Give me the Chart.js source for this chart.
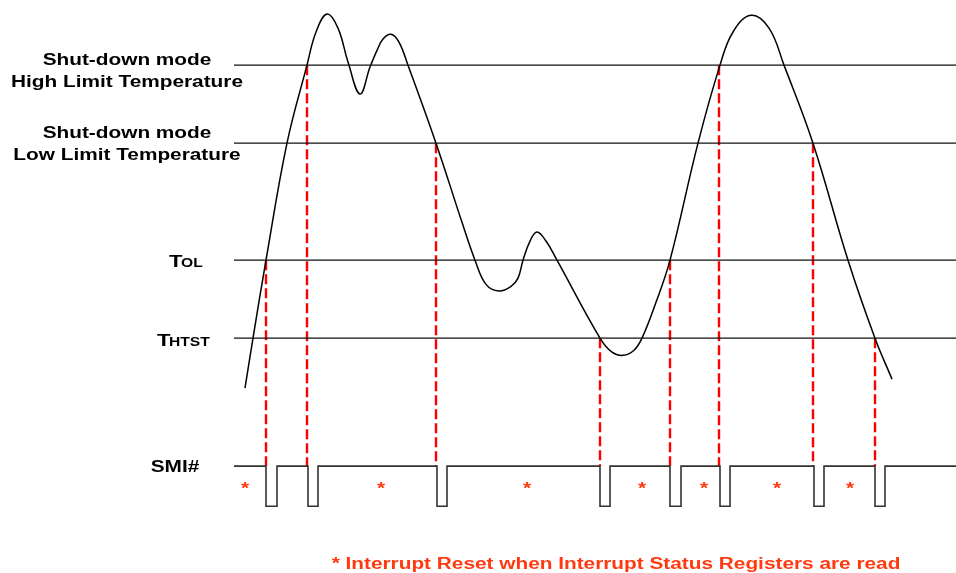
<!DOCTYPE html>
<html lang="en">
<head>
<meta charset="UTF-8">
<title>SMI# timing</title>
<script src="https://cdn.jsdelivr.net/npm/chart.js"></script>
<style>
  html, body { margin: 0; padding: 0; background: #fff; }
  #wrap { width: 956px; height: 573px; position: relative; }
</style>
</head>
<body>
<div id="wrap"><canvas id="smiChart"></canvas></div>
<script>
// time runs left to right (1 unit = 10 px), temperature in arbitrary degrees
const curveTime = [24.5, 25.3, 26.6, 28.7, 30.7, 31.6, 32.7, 33.8, 34.8, 36.0, 37.0, 37.7, 38.3, 39.1, 39.9, 40.8, 43.6, 46.2, 47.5, 48.6,
                   49.9, 51.1, 51.8, 52.3, 53.0, 53.7, 54.6, 55.7, 60.0, 61.2, 62.3, 63.4, 64.2, 65.6, 67.0, 69.8, 72.0, 73.3, 75.1, 76.9,
                   78.4, 81.3, 84.8, 87.5, 89.2];
const curveTemp = [17.2, 30, 50, 80, 100, 108.5, 113.1, 109.5, 100.8, 92.6, 99.5, 103.8, 106.7, 107.9, 105.9, 100, 80, 59.7, 50, 43.8,
                   42.1, 43.3, 45.4, 50, 54.9, 57.2, 54.9, 50, 30, 26.4, 25.6, 26.9, 30, 39.2, 50, 80, 100, 108.5, 112.8, 109.5,
                   100, 80, 50, 30, 19.5];

// threshold levels
const levelTemps = [100, 80, 50, 30];
const levelStart = 23.4;
const levelEnd = 95.6;

// crossings that fire SMI#
const markerTimes = [26.6, 30.7, 43.6, 60.0, 67.0, 71.9, 81.3, 87.5];
const markerLevels = [50, 100, 80, 30, 50, 100, 80, 30];

// SMI# trace
const smiHigh = -2.8;
const smiLow = -13.1;
const smiFall = [26.6, 30.8, 43.7, 60.0, 67.0, 72.0, 81.4, 87.5];
const smiRise = [27.7, 31.8, 44.7, 61.0, 68.1, 73.0, 82.4, 88.5];

// interrupt reset marks
const starTimes = [24.5, 38.1, 52.7, 64.2, 70.4, 77.7, 85.0];
const starLevel = -7.7;

const footnote = '* Interrupt Reset when Interrupt Status Registers are read';

const smiPoints = [{x: levelStart, y: smiHigh}];
smiFall.forEach((t, i) => {
    smiPoints.push({x: t, y: smiHigh}, {x: t, y: smiLow}, {x: smiRise[i], y: smiLow}, {x: smiRise[i], y: smiHigh});
});
smiPoints.push({x: levelEnd, y: smiHigh});

const datasets = [];
levelTemps.forEach(v => {
    datasets.push({
        data: [{x: levelStart, y: v}, {x: levelEnd, y: v}],
        borderColor: '#111', borderWidth: 1.3
    });
});
datasets.push({
    data: curveTime.map((t, i) => ({x: t, y: curveTemp[i]})),
    borderColor: '#000', borderWidth: 1.5,
    tension: 0.4
});
datasets.push({
    data: smiPoints,
    borderColor: '#333', borderWidth: 1.6
});
markerTimes.forEach((t, i) => {
    datasets.push({
        data: [{x: t, y: markerLevels[i]}, {x: t, y: smiHigh}],
        borderColor: '#ff0000', borderWidth: 2.4, borderDash: [10, 4]
    });
});

const STRETCH = 1.3;
function stretchedText(ctx, text, x, y, font, align) {
    ctx.save();
    ctx.font = font;
    ctx.textAlign = align;
    ctx.translate(x, y);
    ctx.scale(STRETCH, 1);
    ctx.fillText(text, 0, 0);
    ctx.restore();
}

const labelsPlugin = {
    id: 'labels',
    afterDatasetsDraw(chart) {
        const ctx = chart.ctx;
        const xs = chart.scales.x, ys = chart.scales.y;
        const bold = '"Liberation Sans", Arial, sans-serif';
        ctx.save();
        ctx.textBaseline = 'middle';
        ctx.fillStyle = '#000';
        const yHigh = ys.getPixelForValue(levelTemps[0]);
        const yLow = ys.getPixelForValue(levelTemps[1]);
        stretchedText(ctx, 'Shut-down mode', 127, yHigh - 5, 'bold 16px ' + bold, 'center');
        stretchedText(ctx, 'High Limit Temperature', 127, yHigh + 17, 'bold 16px ' + bold, 'center');
        stretchedText(ctx, 'Shut-down mode', 127, yLow - 10, 'bold 16px ' + bold, 'center');
        stretchedText(ctx, 'Low Limit Temperature', 127, yLow + 12, 'bold 16px ' + bold, 'center');

        ctx.textBaseline = 'alphabetic';
        // T with small-caps subscript
        const yTol = ys.getPixelForValue(levelTemps[2]) + 7;
        stretchedText(ctx, 'T', 169, yTol, 'bold 17px ' + bold, 'left');
        stretchedText(ctx, 'OL', 181, yTol, 'bold 12px ' + bold, 'left');
        const yHt = ys.getPixelForValue(levelTemps[3]) + 8;
        stretchedText(ctx, 'T', 157, yHt, 'bold 17px ' + bold, 'left');
        stretchedText(ctx, 'HTST', 169, yHt, 'bold 12px ' + bold, 'left');

        ctx.textBaseline = 'middle';
        stretchedText(ctx, 'SMI#', 175, ys.getPixelForValue(smiHigh) + 1, 'bold 16px ' + bold, 'center');

        ctx.fillStyle = '#ff3a10';
        ctx.textBaseline = 'alphabetic';
        starTimes.forEach(t => {
            stretchedText(ctx, '*', xs.getPixelForValue(t), ys.getPixelForValue(starLevel) + 9, 'bold 16px ' + bold, 'center');
        });
        stretchedText(ctx, footnote, 616, 569, 'bold 16px ' + bold, 'center');
        ctx.restore();
    }
};

new Chart(document.getElementById('smiChart'), {
    type: 'scatter',
    data: { datasets: datasets.map(d => Object.assign({showLine: true, pointRadius: 0, fill: false}, d)) },
    options: {
        responsive: true,
        maintainAspectRatio: false,
        animation: false,
        layout: { padding: 0 },
        plugins: { legend: { display: false }, tooltip: { enabled: false } },
        scales: {
            x: { type: 'linear', display: false, min: 0, max: 95.6 },
            y: { type: 'linear', display: false, min: -30.2, max: 116.7 }
        }
    },
    plugins: [labelsPlugin]
});
</script>
</body>
</html>
